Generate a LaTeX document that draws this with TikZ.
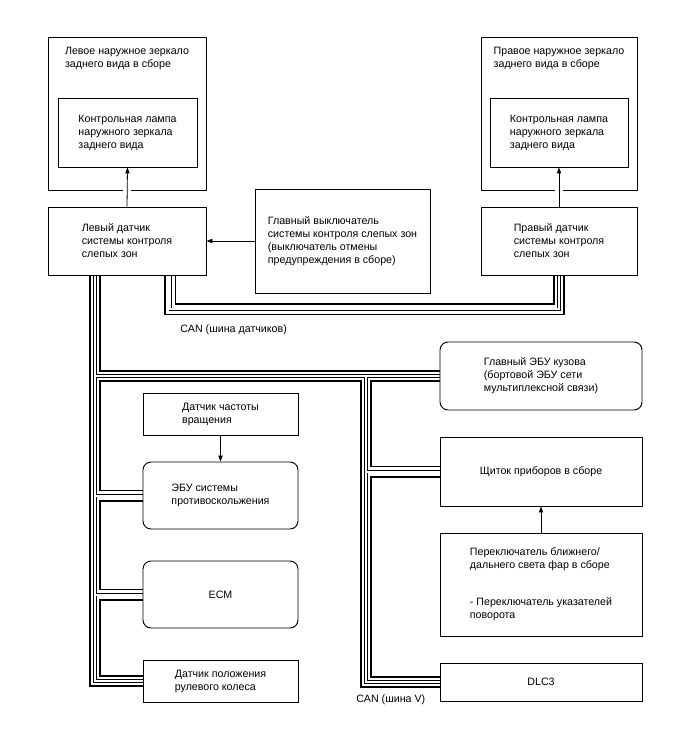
\documentclass[tikz,border=0pt]{standalone}
\usepackage{fontspec}
\setmainfont{Liberation Sans}
\usetikzlibrary{arrows.meta,calc,backgrounds}
\tikzset{
  >={Triangle[length=4.5pt,width=3.2pt]},
  box/.style={draw,line width=0.7pt,inner sep=0pt,align=left,font=\fontsize{8}{9.75}\selectfont},
  rbox/.style={box,rounded corners=6pt},
  txt/.style={inner sep=0pt,align=left,font=\fontsize{8}{9.75}\selectfont},
  sig/.style={->,line width=0.6pt},
  sigcut/.style={sig,preaction={draw=white,line width=6pt,arrows=-,shorten <=1.5pt,shorten >=1.5pt}},
  canbus/.style={draw=black,line width=9pt,line join=miter,
    postaction={draw=white,line width=6.2pt},
    postaction={draw=black,line width=2.8pt},
    postaction={draw=white,line width=1.5pt}},
}

\begin{document}
\begin{tikzpicture}[x=0.75pt,y=-0.75pt]
  \useasboundingbox (0,0) rectangle (688,755);
  \node[box,minimum width=118.5pt,minimum height=114.75pt] (mirL) at (127,113.5) {};
  \node[txt,anchor=north] (mirLt) at ([yshift=-7.5pt]mirL.north) {Левое наружное зеркало\\заднего вида в сборе};
  \node[box,minimum width=104.25pt,minimum height=51.75pt] (lampL) at (127.5,132.5) {Контрольная лампа\\наружного зеркала\\заднего вида};
  \node[box,minimum width=118.5pt,minimum height=51pt] (sensL) at (127,241) {Левый датчик\\системы контроля\\слепых зон};
  \node[box,minimum width=117pt,minimum height=114.75pt] (mirR) at (559,113.5) {};
  \node[txt,anchor=north] (mirRt) at ([yshift=-7.5pt]mirR.north) {Правое наружное зеркало\\заднего вида в сборе};
  \node[box,minimum width=103.5pt,minimum height=51.75pt] (lampR) at (559,132.5) {Контрольная лампа\\наружного зеркала\\заднего вида};
  \node[box,minimum width=117pt,minimum height=51pt] (sensR) at (559,241) {Правый датчик\\системы контроля\\слепых зон};
  \node[box,minimum width=131.25pt,minimum height=78pt] (mainsw) at (342.5,241) {Главный выключатель\\системы контроля слепых зон\\(выключатель отмены\\предупреждения в сборе)};

  \node[rbox,minimum width=151.5pt,minimum height=51pt] (bodyecu) at (541,376) {Главный ЭБУ кузова\\(бортовой ЭБУ сети\\мультиплексной связи)};
  \node[box,minimum width=151.5pt,minimum height=51.75pt] (meter) at (541,471.5) {Щиток приборов в сборе};
  \node[box,minimum width=151.5pt,minimum height=77.25pt] (hlsw) at (541,584.5) {Переключатель ближнего/\\дальнего света фар в сборе\\[18pt]- Переключатель указателей\\поворота};
  \node[box,minimum width=151.5pt,minimum height=28.5pt] (dlc) at (541,682) {DLC3};

  \node[box,minimum width=116.25pt,minimum height=31.5pt] (speed) at (220.5,414) {Датчик частоты\\вращения};
  \node[rbox,minimum width=116.25pt,minimum height=50.25pt] (abs) at (220.5,495.5) {ЭБУ системы\\противоскольжения};
  \node[rbox,minimum width=116.25pt,minimum height=50.25pt] (ecm) at (220.5,594.5) {ECM};
  \node[box,minimum width=116.25pt,minimum height=31.5pt] (steer) at (220.5,681) {Датчик положения\\рулевого колеса};

  \node[txt,anchor=west] (canS) at (180,330) {CAN (шина датчиков)};
  \node[txt,anchor=west] (canV) at (356,700) {CAN (шина V)};

  \coordinate (trk) at ([xshift=35.6pt]sensL.south west);
  \coordinate (vtr) at ([xshift=-55.1pt]bodyecu.west);
  \begin{scope}[on background layer]
    \draw[canbus] ([xshift=-27pt]sensL.south east) -- ++(0,34) -| (sensR.south);
    \draw[canbus] (trk) |- (steer.west)
      (trk |- bodyecu.west) -- (bodyecu.west)
      (trk |- abs.west) -- (abs.west)
      (trk |- ecm.west) -- (ecm.west)
      (vtr) |- (dlc.west)
      (vtr |- meter.west) -- (meter.west);
  \end{scope}

  \draw[sigcut] (sensL.north) -- (lampL.south);
  \draw[sigcut] (sensR.north) -- (lampR.south);
  \draw[sig] (mainsw.west) -- (sensL.east);
  \draw[sig] (speed.south) -- (abs.north);
  \draw[sig] (hlsw.north) -- (meter.south);
\end{tikzpicture}
\end{document}
